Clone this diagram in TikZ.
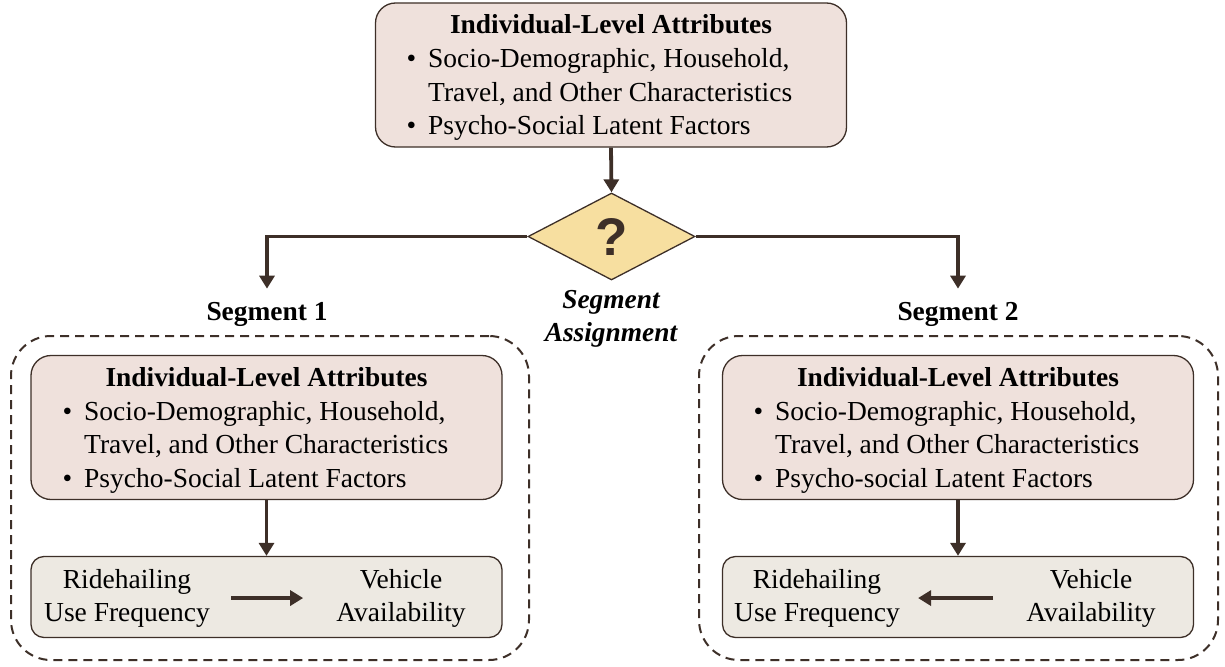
\documentclass[tikz,border=0pt]{standalone}
\usepackage{fontspec}
\setmainfont{Liberation Serif}
\newfontfamily\qfont{Liberation Sans}
\usetikzlibrary{shapes.geometric,arrows.meta}
\definecolor{edge}{HTML}{3D2F28}
\definecolor{pinkfill}{HTML}{EFE1DC}
\definecolor{grayfill}{HTML}{EDE9E2}
\definecolor{diafill}{HTML}{F7DFA0}
\newcommand{\bul}{\llap{\textbullet\hspace{12pt}}}
\begin{document}
\begin{tikzpicture}[x=1pt,y=-1pt,
  attr/.style={draw=edge, line width=1.3pt, fill=pinkfill, rounded corners=20pt,
    minimum width=471pt, minimum height=144pt, inner sep=0pt},
  outbox/.style={draw=edge, line width=1.3pt, fill=grayfill, rounded corners=13pt,
    minimum width=471pt, minimum height=81pt, inner sep=0pt},
  segbox/.style={draw=edge, line width=2pt, dash pattern=on 9pt off 6pt, rounded corners=40pt,
    inner sep=0pt},
  conn/.style={draw=edge, line width=3.8pt, -{Triangle[length=13pt,width=15pt]}},
  txt/.style={font=\fontsize{27.5}{33.5}\selectfont, inner sep=0pt, text=black},
  ttl/.style={font=\fontsize{27.4}{33.5}\selectfont\bfseries, inner sep=0pt, anchor=base},
]
\useasboundingbox (0,0) rectangle (1225,666);

% segment containers
\node[segbox, minimum width=518pt, minimum height=324pt] (seg1) at (270,498) {};
\node[segbox, minimum width=519pt, minimum height=324pt] (seg2) at (958.5,498) {};

% top box
\node[attr] (top) at (611,75) {};
\node[ttl] (topT) at (611,34) {Individual-Level Attributes};
\node[txt, anchor=base west] (topL) at (428,68) {\begin{tabular}[t]{@{}l@{}}\bul Socio-Demographic, Household,\\ Travel, and Other Characteristics\\ \bul Psycho-Social Latent Factors\end{tabular}};

% diamond
\node[diamond, draw=edge, line width=1.3pt, fill=diafill, aspect=1.92,
  minimum width=167pt, minimum height=87pt, inner sep=0pt,
  font=\qfont\bfseries\fontsize{53}{60}\selectfont, text=edge] (dia) at (611.5,236.5) {?};

\node[ttl, font=\fontsize{27.4}{33.5}\selectfont\bfseries\itshape] (sa1) at (611,308) {Segment};
\node[ttl, font=\fontsize{27.4}{33.5}\selectfont\bfseries\itshape] (sa2) at (611,341) {Assignment};

% segment labels
\node[ttl] (sl1) at (267,320) {Segment 1};
\node[ttl] (sl2) at (958,320) {Segment 2};

% left inner boxes
\node[attr] (in1) at (266.5,427.5) {};
\node[ttl] (in1T) at (266.5,386) {Individual-Level Attributes};
\node[txt, anchor=base west] (in1L) at (84,420) {\begin{tabular}[t]{@{}l@{}}\bul Socio-Demographic, Household,\\ Travel, and Other Characteristics\\ \bul Psycho-Social Latent Factors\end{tabular}};
\node[outbox] (low1) at (266.5,597) {};
\node[txt, anchor=base] (rf1) at (127,588) {\begin{tabular}[t]{@{}c@{}}Ridehailing\\ Use Frequency\end{tabular}};
\node[txt, anchor=base] (va1) at (401,588) {\begin{tabular}[t]{@{}c@{}}Vehicle\\ Availability\end{tabular}};

% right inner boxes
\node[attr] (in2) at (958,427.5) {};
\node[ttl] (in2T) at (958,386) {Individual-Level Attributes};
\node[txt, anchor=base west] (in2L) at (775,420) {\begin{tabular}[t]{@{}l@{}}\bul Socio-Demographic, Household,\\ Travel, and Other Characteristics\\ \bul Psycho-social Latent Factors\end{tabular}};
\node[outbox] (low2) at (958,597) {};
\node[txt, anchor=base] (rf2) at (817,588) {\begin{tabular}[t]{@{}c@{}}Ridehailing\\ Use Frequency\end{tabular}};
\node[txt, anchor=base] (va2) at (1091,588) {\begin{tabular}[t]{@{}c@{}}Vehicle\\ Availability\end{tabular}};

% connectors
\draw[conn] (top.south) -- (dia.north);
\draw[conn, shorten >=13pt] (dia.west) -| (sl1.north);
\draw[conn, shorten >=13pt] (dia.east) -| (sl2.north);
\draw[conn] (in1.south) -- (low1.north);
\draw[conn] (in2.south) -- (low2.north);
\draw[conn, shorten <=21pt, shorten >=33pt] (rf1) -- (va1);
\draw[conn, shorten <=33pt, shorten >=18pt] (va2) -- (rf2);
\end{tikzpicture}
\end{document}
